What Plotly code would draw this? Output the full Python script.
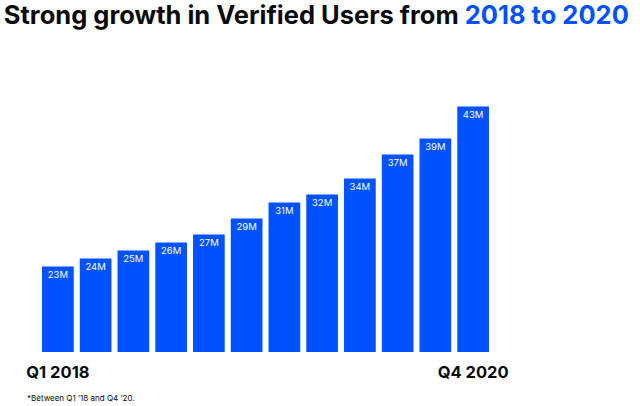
import plotly.graph_objects as go

quarters = ["Q1 2018", "Q2 2018", "Q3 2018", "Q4 2018",
            "Q1 2019", "Q2 2019", "Q3 2019", "Q4 2019",
            "Q1 2020", "Q2 2020", "Q3 2020", "Q4 2020"]
verified_users_m = [23, 24, 25, 26, 27, 29, 31, 32, 34, 37, 39, 43]
bar_labels = [f"{v}M" for v in verified_users_m]
axis_ticks = [quarters[0], quarters[-1]]

BLUE = "#0052FF"
FONT = "Inter"

fig = go.Figure(go.Bar(
    x=quarters,
    y=verified_users_m,
    text=bar_labels,
    textposition="inside",
    insidetextanchor="end",
    textangle=0,
    textfont=dict(family=FONT, size=9.5, color="white"),
    marker=dict(color=BLUE, line=dict(width=0)),
    hoverinfo="skip",
))

fig.update_layout(
    width=640, height=406,
    margin=dict(l=39, r=148, t=60, b=54),
    paper_bgcolor="white", plot_bgcolor="white",
    bargap=0.16,
    showlegend=False,
    title=dict(
        text=f"<b>Strong growth in Verified Users from <span style='color:{BLUE}'>2018 to 2020</span></b>",
        font=dict(family=FONT, size=25.5, color="#0a0b0d"),
        xref="container", yref="container",
        x=0.006, xanchor="left", y=1.0, yanchor="top",
        pad=dict(t=6),
    ),
    xaxis=dict(
        range=[-0.5, 11.5],
        tickmode="array", tickvals=axis_ticks,
        ticktext=[f"<b>{t}</b>" for t in axis_ticks],
        tickfont=dict(family=FONT, size=16.5, color="#0a0b0d"),
        showgrid=False, zeroline=False, showline=False, ticks="",
        ticklabelstandoff=8,
    ),
    yaxis=dict(
        range=[12.3, 48.8],
        visible=False, showgrid=False, zeroline=False,
    ),
    annotations=[dict(
        text="*Between Q1 ’18 and Q4 ’20.",
        xref="paper", yref="paper", x=-0.03, y=0,
        xanchor="left", yanchor="middle", yshift=-46,
        showarrow=False,
        font=dict(family=FONT, size=8, color="#0a0b0d"),
    )],
)

fig.write_html("out.html", config={"displayModeBar": False},
               post_script="document.body.style.margin='0';")
